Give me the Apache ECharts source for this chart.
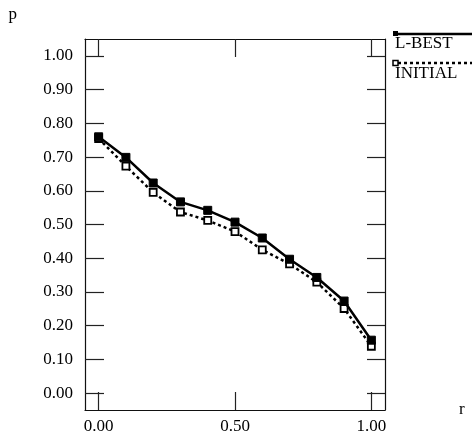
<!DOCTYPE html>
<html>
<head>
<meta charset="utf-8">
<script src="https://cdn.jsdelivr.net/npm/echarts@6/dist/echarts.min.js"></script>
<style>
html,body{margin:0;padding:0;background:#fff;}
#chart{width:472px;height:443px;}
</style>
</head>
<body>
<div id="chart"></div>
<script>
var xValues = [0.0, 0.1, 0.2, 0.3, 0.4, 0.5, 0.6, 0.7, 0.8, 0.9, 1.0];
var lBest = [0.760, 0.699, 0.623, 0.567, 0.542, 0.507, 0.460, 0.397, 0.343, 0.273, 0.157];
var initial = [0.755, 0.673, 0.595, 0.537, 0.512, 0.479, 0.425, 0.383, 0.329, 0.251, 0.139];
var xTicks = [0, 0.5, 1.0];
var yTicks = [0, 0.1, 0.2, 0.3, 0.4, 0.5, 0.6, 0.7, 0.8, 0.9, 1.0];
var seriesNames = ['L-BEST', 'INITIAL'];
var xName = 'r';
var yName = 'p';

var font = 'Liberation Serif';
function pairs(ys) { return xValues.map(function (x, i) { return [x, ys[i]]; }); }
function fmt(v) { return v.toFixed(2); }

var chart = echarts.init(document.getElementById('chart'));
var tickStyle = { color: '#222', width: 1.2 };
var lineStyle = { color: '#111', width: 1.2 };
chart.setOption({
  animation: false,
  backgroundColor: '#fff',
  grid: { left: 85, right: 87, top: 39, bottom: 33, show: false, containLabel: false, outerBoundsMode: 'none' },
  xAxis: [{
    type: 'value', min: -0.05, max: 1.05, position: 'bottom',
    name: xName, nameLocation: 'end', nameGap: 74,
    nameTextStyle: { fontFamily: font, fontSize: 17, color: '#000', verticalAlign: 'middle' },
    axisLine: { show: true, onZero: false, lineStyle: lineStyle },
    axisTick: { show: true, inside: true, length: 18, customValues: xTicks, lineStyle: tickStyle },
    axisLabel: { show: true, customValues: xTicks, formatter: fmt, fontFamily: font, fontSize: 17, color: '#000', margin: 8 },
    splitLine: { show: false }
  }, {
    type: 'value', min: -0.05, max: 1.05, position: 'top',
    axisLine: { show: true, onZero: false, lineStyle: lineStyle },
    axisTick: { show: true, inside: true, length: 18, customValues: xTicks, lineStyle: tickStyle },
    axisLabel: { show: false },
    splitLine: { show: false }
  }],
  yAxis: [{
    type: 'value', min: -0.05, max: 1.05, position: 'left',
    name: yName, nameLocation: 'end', nameGap: 16,
    nameTextStyle: { fontFamily: font, fontSize: 17, color: '#000', align: 'right', padding: [0, 68, 0, 0] },
    axisLine: { show: true, onZero: false, lineStyle: lineStyle },
    axisTick: { show: true, inside: true, length: 19, customValues: yTicks, lineStyle: tickStyle },
    axisLabel: { show: true, customValues: yTicks, formatter: fmt, fontFamily: font, fontSize: 17, color: '#000', margin: 12 },
    splitLine: { show: false }
  }, {
    type: 'value', min: -0.05, max: 1.05, position: 'right',
    axisLine: { show: true, onZero: false, lineStyle: lineStyle },
    axisTick: { show: true, inside: true, length: 18, customValues: yTicks, lineStyle: tickStyle },
    axisLabel: { show: false },
    splitLine: { show: false }
  }],
  series: [{
    name: seriesNames[0], type: 'line', data: pairs(lBest),
    symbol: 'rect', symbolSize: 8, showAllSymbol: true,
    itemStyle: { color: '#000', borderColor: '#000', borderWidth: 1 },
    lineStyle: { color: '#000', width: 2.5, type: 'solid' },
    z: 3
  }, {
    name: seriesNames[1], type: 'line', data: pairs(initial),
    symbol: 'rect', symbolSize: 7, showAllSymbol: true,
    itemStyle: { color: '#fff', borderColor: '#000', borderWidth: 1.8 },
    lineStyle: { color: '#000', width: 2.5, type: [3, 3] },
    z: 2
  }],
  graphic: [
    { type: 'line', shape: { x1: 394, y1: 34, x2: 472, y2: 34 }, style: { stroke: '#000', lineWidth: 2.5 } },
    { type: 'rect', shape: { x: 393, y: 31, width: 5, height: 5 }, style: { fill: '#000' } },
    { type: 'text', left: 395, top: 35, style: { text: seriesNames[0], font: '17px "Liberation Serif"', fill: '#000' } },
    { type: 'line', shape: { x1: 398, y1: 63, x2: 472, y2: 63 }, style: { stroke: '#000', lineWidth: 2.5, lineDash: [3, 3] } },
    { type: 'rect', shape: { x: 393, y: 60.5, width: 5, height: 5 }, style: { fill: '#fff', stroke: '#000', lineWidth: 1.5 } },
    { type: 'text', left: 395, top: 65, style: { text: seriesNames[1], font: '17px "Liberation Serif"', fill: '#000' } }
  ]
});
</script>
</body>
</html>
